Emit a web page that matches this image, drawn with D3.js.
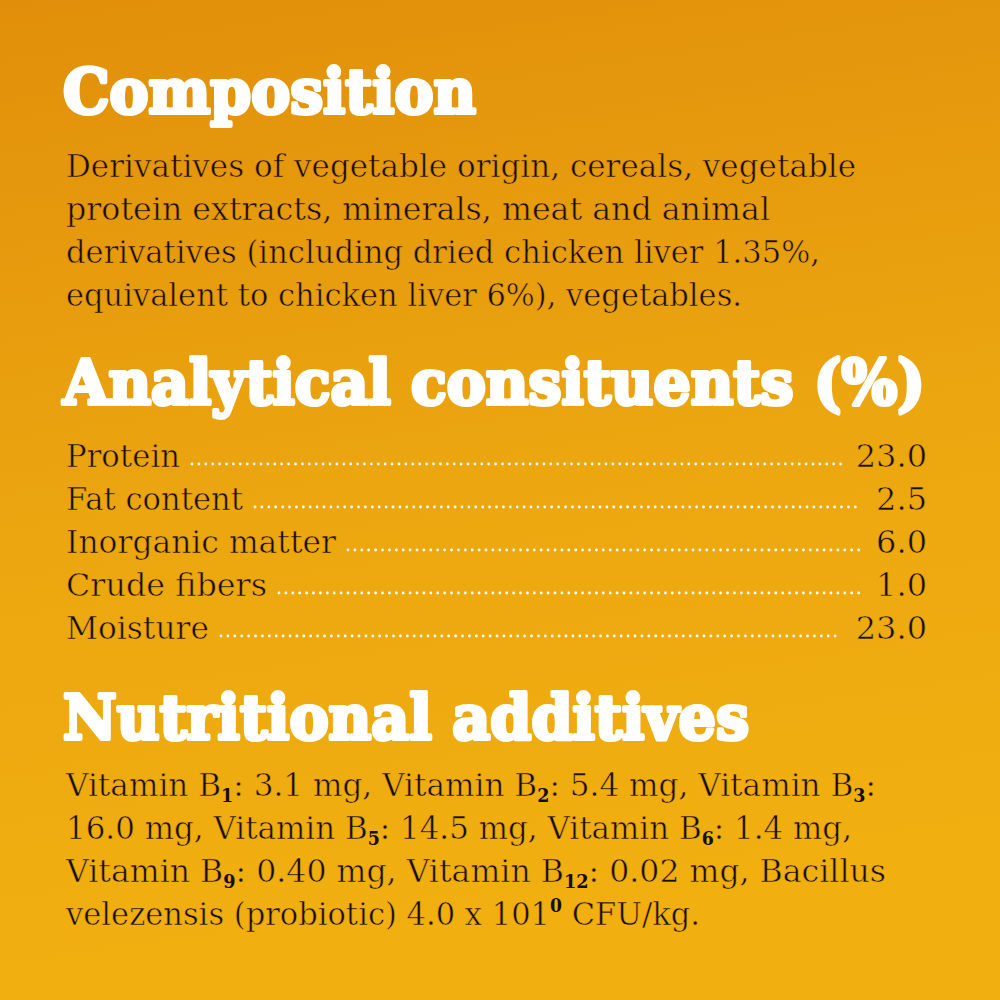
<!DOCTYPE html>
<html><head><meta charset="utf-8">
<script src="https://cdn.jsdelivr.net/npm/d3@7"></script>
<style>html,body{margin:0;padding:0;background:#e9a00e;}svg{display:block}</style>
</head><body>
<script>
const headings = ["Composition", "Analytical consituents (%)", "Nutritional additives"];
const compositionLines = [
  "Derivatives of vegetable origin, cereals, vegetable",
  "protein extracts, minerals, meat and animal",
  "derivatives (including dried chicken liver 1.35%,",
  "equivalent to chicken liver 6%), vegetables."
];
const constituentLabels = ["Protein", "Fat content", "Inorganic matter", "Crude fibers", "Moisture"];
const constituentValues = [23.0, 2.5, 6.0, 1.0, 23.0];
// additive lines: segments [text, kind] kind: n normal, s subscript, p superscript
const additiveLines = [
  [["Vitamin B","n"],["1","s"],[": 3.1 mg, Vitamin B","n"],["2","s"],[": 5.4 mg, Vitamin B","n"],["3","s"],[":","n"]],
  [["16.0 mg, Vitamin B","n"],["5","s"],[": 14.5 mg, Vitamin B","n"],["6","s"],[": 1.4 mg,","n"]],
  [["Vitamin B","n"],["9","s"],[": 0.40 mg, Vitamin B","n"],["12","s"],[": 0.02 mg, Bacillus","n"]],
  [["velezensis (probiotic) 4.0 x 10","n"],["1","n"],["0","p"],[" CFU/kg.","n"]]
];

const W = 1000, H = 1000;
const svg = d3.select("body").append("svg").attr("width", W).attr("height", H);
const defs = svg.append("defs");
const grad = defs.append("linearGradient").attr("id","bg").attr("gradientUnits","userSpaceOnUse")
  .attr("x1",0).attr("y1",0).attr("x2",150).attr("y2",1000);
grad.append("stop").attr("offset","0%").attr("stop-color","#e18f0a");
grad.append("stop").attr("offset","55%").attr("stop-color","#eca710");
grad.append("stop").attr("offset","100%").attr("stop-color","#f1b010");
svg.append("rect").attr("width",W).attr("height",H).attr("fill","url(#bg)");

const headFont = "'DejaVu Serif', serif";
const bodyFont = "'DejaVu Serif', serif";
const ink = "#150e05";
// thin the body glyphs by eroding their edges with the background
function lighten(sel){ return sel.attr("stroke","url(#bg)").attr("stroke-width",0.6); }

// headings
const headPos = [{y:113, w:413},{y:404, w:862},{y:739, w:686}];
svg.selectAll("text.head").data(headings).join("text")
  .attr("class","head")
  .attr("x",63).attr("y",(d,i)=>headPos[i].y)
  .attr("font-family",headFont).attr("font-weight","bold").attr("font-size",62)
  .attr("fill","#fff").attr("stroke","#fff").attr("stroke-width",4).attr("stroke-linejoin","round")
  .attr("textLength",(d,i)=>headPos[i].w).attr("lengthAdjust","spacingAndGlyphs")
  .text(d=>d);

// composition lines
const compW = [790, 704, 754, 676];
lighten(svg.selectAll("text.comp").data(compositionLines).join("text")
  .attr("class","comp")
  .attr("x",66).attr("y",(d,i)=>177 + i*43)
  .attr("font-family",bodyFont).attr("font-size",32).attr("fill",ink)
  .attr("textLength",(d,i)=>compW[i]).attr("lengthAdjust","spacingAndGlyphs")
  .text(d=>d));

// constituents
const rowBase = (d,i)=> 467 + i*43;
const labelW = [114, 177, 270, 201, 143];
const fmt = d3.format(".1f");
const rows = svg.selectAll("g.row").data(constituentLabels).join("g").attr("class","row");
lighten(rows.append("text")
  .attr("x",66).attr("y",rowBase)
  .attr("font-family",bodyFont).attr("font-size",32).attr("fill",ink)
  .attr("textLength",(d,i)=>labelW[i]).attr("lengthAdjust","spacingAndGlyphs")
  .text(d=>d));
lighten(rows.append("text")
  .attr("x",927).attr("y",rowBase).attr("text-anchor","end")
  .attr("font-family",bodyFont).attr("font-size",32).attr("fill",ink)
  .text((d,i)=>fmt(constituentValues[i])));
// dotted leaders
rows.each(function(d,i){
  const vw = d3.select(this).select("text:nth-of-type(2)").node().getComputedTextLength();
  const x0 = 66 + labelW[i] + 12;
  const x1 = 927 - vw - 14;
  const step = 6.9;
  const n = Math.floor((x1-x0)/step)+1;
  d3.select(this).selectAll("circle").data(d3.range(n)).join("circle")
    .attr("cx",k=>x0+k*step).attr("cy",rowBase(d,i)-3).attr("r",1.4).attr("fill","#fff");
});

// additives
const addW = [810, 786, 820, 634];
additiveLines.forEach((segs,i)=>{
  const t = lighten(svg.append("text")
    .attr("x",66).attr("y",796 + i*43)
    .attr("font-family",bodyFont).attr("font-size",32).attr("fill",ink)
    .attr("textLength",addW[i]).attr("lengthAdjust","spacingAndGlyphs"));
  segs.forEach(([s,k],j)=>{
    const ts = t.append("tspan").text(s);
    if(k==="s"){ ts.attr("font-size",18).attr("font-weight",700).attr("dy",6).attr("stroke-width",0); }
    else if(k==="p"){ ts.attr("font-size",18).attr("font-weight",700).attr("dy",-13).attr("stroke-width",0); }
    if(j>0){
      const prev = segs[j-1][1];
      if(k==="n" && prev==="s") ts.attr("dy",-6);
      if(k==="n" && prev==="p") ts.attr("dy",13);
    }
  });
});
</script>
</body></html>
